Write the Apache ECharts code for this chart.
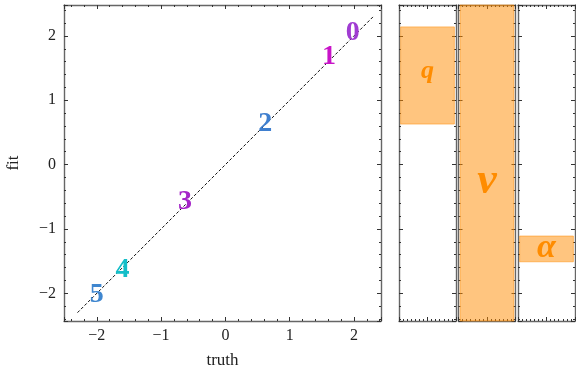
<!DOCTYPE html>
<html><head><meta charset="utf-8">
<script src="https://cdn.jsdelivr.net/npm/echarts@6/dist/echarts.min.js"></script>
<style>html,body{margin:0;padding:0;background:#fff}#c{width:576px;height:372px}</style>
</head><body><div id="c"></div>
<script>
// ---- data ----
const pointLabels = ['0', '1', '2', '3', '4', '5'];
const truthValues = [1.98, 1.61, 0.62, -0.63, -1.60, -2.00];
const fitValues   = [2.05, 1.67, 0.64, -0.58, -1.64, -2.03];
const pointColors = ['#a03cd2', '#c814c8', '#3f7fcf', '#a526c8', '#14bec8', '#3f86cf'];
const diagLine = [[-2.3, -2.3], [2.3, 2.3]];
const xTicks = [-2, -1, 0, 1, 2];
const yTicks = [-2, -1, 0, 1, 2];
const paramNames  = ['q', 'v', 'α'];
const paramLow    = [0.63, -2.43, -1.51];
const paramHigh   = [2.14, 2.48, -1.11];
const paramLabelY = [1.45, -0.26, -1.30];

// ---- layout / style ----
const X_RANGE = [-2.51, 2.42];
const Y_RANGE = [-2.43, 2.48];
const P_RANGE = [-0.7, 0.7];
const FONT = 'Liberation Serif';
const spine = { show: true, onZero: false, lineStyle: { color: '#666', width: 1.4 } };
const tick = { show: true, inside: true, length: 4, lineStyle: { color: '#333', width: 1 } };
const fmt = (ticks) => (v) => ticks.includes(Math.round(v * 1000) / 1000) ? String(v).replace('-', '\u2212') : '';

function mainX(pos, labels) {
  return {
    type: 'value', gridIndex: 0, position: pos, min: X_RANGE[0], max: X_RANGE[1],
    minInterval: 1, maxInterval: 1,
    axisLine: spine, axisTick: tick,
    minorTick: { show: true, splitNumber: 5, length: 2, lineStyle: { color: '#333', width: 1 } },
    splitLine: { show: false }, minorSplitLine: { show: false },
    axisLabel: labels ? { show: true, showMinLabel: false, showMaxLabel: false, margin: 7,
      fontFamily: FONT, fontSize: 16, color: '#222', formatter: fmt(xTicks) } : { show: false },
    name: labels ? 'truth' : '', nameLocation: 'middle', nameGap: 31,
    nameTextStyle: { fontFamily: FONT, fontSize: 17, color: '#222' }
  };
}
function yAx(gi, pos, labels) {
  return {
    type: 'value', gridIndex: gi, position: pos, min: Y_RANGE[0], max: Y_RANGE[1],
    minInterval: 1, maxInterval: 1,
    axisLine: spine, axisTick: tick,
    minorTick: { show: true, splitNumber: 5, length: 2, lineStyle: { color: '#333', width: 1 } },
    splitLine: { show: false }, minorSplitLine: { show: false },
    axisLabel: labels ? { show: true, showMinLabel: false, showMaxLabel: false, margin: 8,
      fontFamily: FONT, fontSize: 16, color: '#222', formatter: fmt(yTicks) } : { show: false },
    name: labels ? 'fit' : '', nameLocation: 'middle', nameGap: 42, nameRotate: 90,
    nameTextStyle: { fontFamily: FONT, fontSize: 17, color: '#222' }
  };
}
function panelX(gi, pos) {
  return {
    type: 'value', gridIndex: gi, position: pos, min: P_RANGE[0], max: P_RANGE[1],
    interval: 0.7,
    axisLine: spine, axisTick: tick,
    minorTick: { show: true, splitNumber: 7, length: 2, lineStyle: { color: '#333', width: 1 } },
    splitLine: { show: false }, minorSplitLine: { show: false },
    axisLabel: { show: false }
  };
}

const G = { top: 5, height: 316, containLabel: false, outerBoundsMode: 'none' };
const grids = [
  Object.assign({ left: 64, width: 317 }, G),
  Object.assign({ left: 399, width: 57 }, G),
  Object.assign({ left: 458.5, width: 57 }, G),
  Object.assign({ left: 518, width: 57 }, G)
];
const xAxes = [mainX('bottom', true), mainX('top', false)];
const yAxes = [yAx(0, 'left', true), yAx(0, 'right', false)];
for (let i = 1; i <= 3; i++) {
  xAxes.push(panelX(i, 'bottom'), panelX(i, 'top'));
  yAxes.push(yAx(i, 'left', false), yAx(i, 'right', false));
}

const hidden = { color: 'rgba(0,0,0,0)', borderWidth: 0, opacity: 1 };
const series = [
  {
    type: 'line', xAxisIndex: 0, yAxisIndex: 0, data: diagLine, symbol: 'none',
    lineStyle: { color: '#111', width: 1, type: [3, 2] }, silent: true, z: 3
  },
  {
    type: 'scatter', xAxisIndex: 0, yAxisIndex: 0, symbolSize: 2, silent: true, z: 4,
    itemStyle: hidden,
    data: pointLabels.map((t, i) => ({ value: [truthValues[i], fitValues[i]], name: t,
      label: { color: pointColors[i] } })),
    label: { show: true, position: 'inside', formatter: (p) => p.name, opacity: 1,
      fontFamily: FONT, fontWeight: 'bold', fontSize: 28 }
  }
];
const paramFontSizes = [26, 44, 34];
paramNames.forEach((nm, i) => {
  series.push({
    type: 'scatter', xAxisIndex: 2 + 2 * i, yAxisIndex: 2 + 2 * i, symbolSize: 2, silent: true,
    z: -1, itemStyle: hidden,
    data: [{ value: [0, paramLabelY[i]], name: nm }],
    label: { show: true, position: 'inside', formatter: (p) => p.name, opacity: 1,
      fontFamily: FONT, fontWeight: 'bold', fontStyle: 'italic', fontSize: paramFontSizes[i], color: '#ff8c00' },
    markArea: {
      silent: true,
      itemStyle: { color: 'rgba(255,140,0,0.5)', borderColor: 'rgba(255,140,0,0.5)', borderWidth: 1 },
      data: [[{ coord: [-0.66, paramLow[i]] }, { coord: [0.66, paramHigh[i]] }]]
    }
  });
});

const chart = echarts.init(document.getElementById('c'), null, { renderer: 'canvas' });
chart.setOption({ animation: false, backgroundColor: '#fff', grid: grids, xAxis: xAxes, yAxis: yAxes, series });
</script></body></html>
